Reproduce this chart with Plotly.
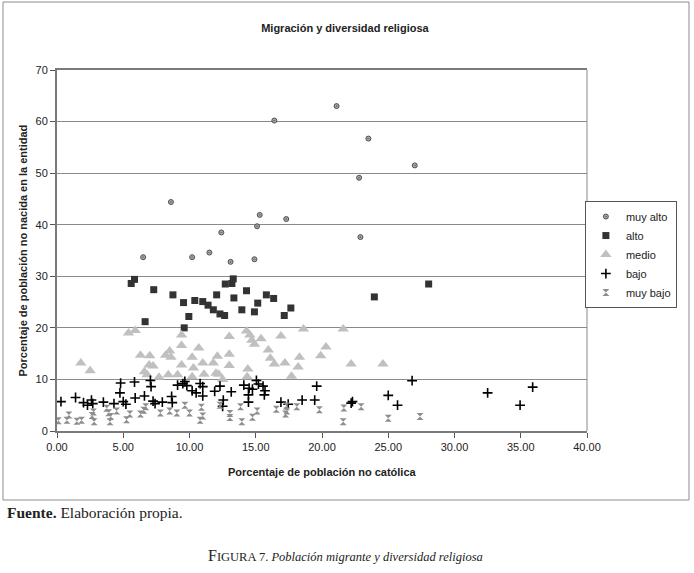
import plotly.graph_objects as go

# ---- data ----
muy_alto_x = [6.5, 8.6, 10.2, 11.5, 12.4, 13.1, 14.9, 15.1, 15.3, 16.4, 17.3, 21.1, 22.8, 22.9, 23.5, 27.0]
muy_alto_y = [33.7, 44.4, 33.7, 34.6, 38.5, 32.8, 33.3, 39.7, 41.9, 60.2, 41.1, 63.0, 49.1, 37.6, 56.7, 51.5]

alto_x = [5.6, 5.85, 7.3, 6.65, 8.75, 9.55, 9.6, 9.95, 10.4, 11.0, 11.4, 11.8, 12.3, 12.65, 12.05, 12.7,
          13.2, 13.3, 13.35, 13.95, 14.3, 14.9, 15.15, 15.8, 16.35, 17.15, 17.65, 23.95, 28.05]
alto_y = [28.6, 29.4, 27.4, 21.2, 26.4, 24.9, 20.0, 22.2, 25.3, 25.1, 24.4, 23.5, 22.7, 22.4, 26.4, 28.5,
          28.6, 29.5, 25.8, 23.5, 27.2, 23.1, 24.8, 26.4, 25.7, 22.4, 23.85, 26.0, 28.5]

medio_x = [1.8, 2.5, 5.4, 5.9, 6.3, 7.0, 8.2, 8.5, 8.6, 9.4, 9.4, 10.2, 10.7, 11.0, 11.8, 12.1, 13.0, 13.0,
           14.3, 14.55, 14.7, 14.9, 15.4, 16.9, 18.6, 21.6, 15.95, 16.1, 16.4, 17.2, 18.3, 18.2, 17.7,
           20.3, 19.9, 22.2, 24.6, 6.95, 7.25, 9.4, 10.3, 13.0, 14.4, 14.35, 6.6, 6.8, 7.7, 8.4, 9.1,
           10.2, 11.1, 12.0, 12.2, 12.5]
medio_y = [13.2, 11.7, 19.0, 19.5, 14.7, 14.6, 14.7, 15.5, 14.3, 18.6, 16.6, 14.3, 16.1, 13.2, 13.2, 14.5,
           18.3, 14.9, 19.4, 18.6, 17.6, 16.8, 17.9, 18.4, 19.8, 19.8, 15.7, 14.1, 13.0, 13.2, 14.3, 12.4,
           10.6, 16.3, 14.6, 13.0, 13.0, 12.8, 12.6, 12.8, 12.2, 12.7, 12.0, 10.5, 11.5, 10.9, 10.4, 10.9,
           10.9, 10.5, 11.0, 11.2, 11.0, 10.0]

bajo_x = [0.3, 1.4, 2.0, 2.3, 2.6, 2.7, 3.5, 4.3, 4.8, 4.75, 5.0, 5.2, 5.85, 5.9, 6.6, 7.05, 7.1, 7.25,
          7.4, 7.95, 8.65, 8.7, 9.1, 9.65, 9.8, 9.5, 10.2, 10.5, 10.8, 11.0, 11.0, 11.9, 12.3, 12.55,
          12.5, 13.15, 14.1, 14.5, 14.45, 14.45, 14.75, 15.05, 15.2, 15.55, 15.7, 15.65, 16.9, 17.45,
          18.5, 19.45, 19.6, 22.2, 22.3, 25.0, 25.7, 26.8, 32.5, 34.95, 35.9]
bajo_y = [5.7, 6.5, 5.5, 5.0, 6.0, 5.3, 5.6, 5.3, 9.3, 7.4, 5.7, 5.2, 9.5, 6.4, 6.8, 9.8, 8.6, 5.8,
          5.3, 5.6, 6.7, 5.5, 8.9, 9.6, 8.8, 9.2, 7.8, 7.4, 9.2, 8.6, 6.8, 7.7, 8.7, 6.0,
          4.8, 7.6, 8.9, 8.3, 7.0, 5.6, 8.1, 9.8, 9.1, 8.7, 7.8, 7.0, 5.6, 5.2,
          6.0, 6.0, 8.7, 5.4, 5.7, 6.9, 5.0, 9.75, 7.4, 5.0, 8.5]

muy_bajo_x = [0.1, 0.75, 0.9, 1.5, 1.85, 2.65, 2.75, 2.8, 3.75, 3.9, 4.0, 4.05, 4.5, 5.25, 5.5, 6.3, 6.55,
              6.7, 7.8, 8.5, 9.05, 9.65, 10.0, 10.8, 11.0, 10.9, 12.3, 13.05, 13.05, 13.85, 13.95, 14.75,
              15.1, 16.55, 17.3, 17.35, 17.25, 18.1, 19.8, 21.65, 21.6, 22.95, 25.0, 27.4]
muy_bajo_y = [2.0, 2.1, 3.1, 1.9, 2.1, 3.0, 3.7, 1.8, 4.4, 3.55, 1.8, 2.8, 3.9, 2.2, 3.3, 3.3, 4.0,
              4.7, 3.5, 3.9, 3.5, 5.0, 3.5, 2.1, 2.9, 4.6, 5.0, 3.4, 2.6, 4.7, 1.8, 2.65,
              3.9, 4.2, 4.85, 3.9, 3.3, 4.7, 4.1, 4.45, 1.8, 4.7, 2.45, 2.8]

series_names = ["muy alto", "alto", "medio", "bajo", "muy bajo"]

x_ticks = [0, 5, 10, 15, 20, 25, 30, 35, 40]
y_ticks = [0, 10, 20, 30, 40, 50, 60, 70]

# ---- figure ----
fig = go.Figure()

fig.add_trace(go.Scatter(x=muy_alto_x, y=muy_alto_y, mode="markers", name=series_names[0],
                         marker=dict(symbol="circle-dot", size=5, color="#a8a8a8",
                                     line=dict(color="#505050", width=1))))
fig.add_trace(go.Scatter(x=alto_x, y=alto_y, mode="markers", name=series_names[1],
                         marker=dict(symbol="square", size=7, color="#333333")))
fig.add_trace(go.Scatter(x=medio_x, y=medio_y, mode="markers", name=series_names[2],
                         marker=dict(symbol="triangle-up", size=10, color="#c0c0c0")))
fig.add_trace(go.Scatter(x=bajo_x, y=bajo_y, mode="markers", name=series_names[3],
                         marker=dict(symbol="cross-thin", size=7, color="black",
                                     line=dict(color="black", width=1.6))))
fig.add_trace(go.Scatter(x=muy_bajo_x, y=muy_bajo_y, mode="markers", name=series_names[4],
                         marker=dict(symbol="hourglass", size=7, color="#8e8e8e")))

axis_font = dict(family="Liberation Sans, Arial, sans-serif", size=11, color="#222222")

fig.update_layout(
    width=694, height=573,
    margin=dict(l=57, r=107, t=70, b=142),
    paper_bgcolor="white", plot_bgcolor="white",
    showlegend=True,
    title=dict(text="<b>Migración y diversidad religiosa</b>", x=0.497, xref="container",
               y=1 - 28 / 573, yref="container", xanchor="center", yanchor="middle",
               font=dict(family="Liberation Sans, Arial, sans-serif", size=11, color="#222222")),
    legend=dict(x=0.996, y=0.637, xanchor="left", yanchor="top",
                bgcolor="white", bordercolor="#555555", borderwidth=1,
                font=dict(family="Liberation Sans, Arial, sans-serif", size=11, color="#222222"),
                tracegroupgap=0, itemsizing="trace"),
    xaxis=dict(range=[0, 40], tickvals=x_ticks, tickformat=".2f", showgrid=False,
               zeroline=False, showline=True, linecolor="#7a7a7a", linewidth=2, mirror=True,
               ticks="outside", ticklen=5, tickcolor="#555555", tickfont=axis_font),
    yaxis=dict(range=[0, 70], tickvals=y_ticks, showgrid=True, gridcolor="#8a8a8a", gridwidth=1,
               zeroline=False, showline=True, linecolor="#7a7a7a", linewidth=2,
               ticks="outside", ticklen=5, tickcolor="#555555", tickfont=axis_font),
)

# right frame line of the plot area
fig.add_shape(type="line", xref="paper", yref="paper", x0=1, x1=1, y0=0, y1=1,
              line=dict(color="#8a8a8a", width=1), layer="below")

# outer chart border
fig.add_shape(type="rect", xref="paper", yref="paper",
              x0=(3 - 57) / 530, x1=(689 - 57) / 530,
              y0=(431 - 500) / 361, y1=(431 - 2) / 361,
              line=dict(color="#8c8c8c", width=1), fillcolor="rgba(0,0,0,0)", layer="below")

# axis titles
fig.add_annotation(text="<b>Porcentaje de población no católica</b>", xref="paper", yref="paper",
                   x=0.5, y=(431 - 472) / 361, xanchor="center", yanchor="middle", showarrow=False,
                   font=dict(family="Liberation Sans, Arial, sans-serif", size=11, color="#222222"))
fig.add_annotation(text="<b>Porcentaje de población no nacida en la entidad</b>", xref="paper", yref="paper",
                   x=(22 - 57) / 530, y=0.5, xanchor="center", yanchor="middle", textangle=-90,
                   showarrow=False,
                   font=dict(family="Liberation Sans, Arial, sans-serif", size=11, color="#222222"))

# source note
fig.add_annotation(text="<b>Fuente.</b> Elaboración propia.", xref="paper", yref="paper",
                   x=(5 - 57) / 530, y=(431 - 512) / 361, xanchor="left", yanchor="middle",
                   showarrow=False,
                   font=dict(family="Liberation Serif, Times New Roman, serif", size=15.5, color="#222222"))

# figure caption
fig.add_annotation(
    text="<span style='font-size:16px'>F</span>IGURA 7. <i>Población migrante y diversidad religiosa</i>",
    xref="paper", yref="paper", x=(345 - 57) / 530, y=(431 - 555) / 361,
    xanchor="center", yanchor="middle", showarrow=False,
    font=dict(family="Liberation Serif, Times New Roman, serif", size=12.5, color="#222222"))

fig.write_html("out.html", post_script="document.body.style.margin='0';",
               config={"displayModeBar": False})
